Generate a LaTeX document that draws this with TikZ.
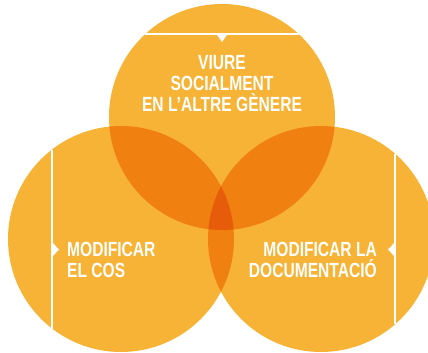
\documentclass[tikz,border=0pt]{standalone}
\usepackage{fontspec}
\setmainfont[FakeStretch=0.76]{Liberation Sans}
\definecolor{base}{RGB}{247,179,53}
\definecolor{two}{RGB}{240,128,15}
\definecolor{three}{RGB}{230,92,10}
\begin{document}
\begin{tikzpicture}[x=1pt,y=-1pt,
  lbl/.style={text=white,font=\bfseries\fontsize{20.5}{21}\selectfont,inner sep=0pt},
  wline/.style={draw=white,line width=1.3pt},
  wtri/.style={fill=white}]
\useasboundingbox (0,0) rectangle (428,353);
\coordinate (T) at (222,117);
\coordinate (L) at (121,239);
\coordinate (R) at (321,239);
\fill[base] (T) circle (113pt);
\fill[base] (L) circle (113pt);
\fill[base] (R) circle (113pt);
\begin{scope}
  \clip (T) circle (113pt);
  \fill[two] (L) circle (113pt);
  \fill[two] (R) circle (113pt);
\end{scope}
\begin{scope}
  \clip (L) circle (113pt);
  \fill[two] (R) circle (113pt);
\end{scope}
\begin{scope}
  \clip (T) circle (113pt);
  \clip (L) circle (113pt);
  \fill[three] (R) circle (113pt);
\end{scope}
% white chords and markers
\draw[wline] (145,34) -- (299,34);
\fill[wtri] (216.5,34) -- (227.5,34) -- (222,42) -- cycle;
\draw[wline] (52,149.5) -- (52,328.5);
\fill[wtri] (52,242) -- (52,257) -- (59,249.5) -- cycle;
\draw[wline] (395,153.6) -- (395,324.4);
\fill[wtri] (395,242) -- (395,257) -- (388,249.5) -- cycle;
% labels
\node[lbl,anchor=north,align=center] (top) at (222,55) {VIURE\\SOCIALMENT\\EN L’ALTRE GÈNERE};
\node[lbl,anchor=north west,align=left] (left) at (67,242) {MODIFICAR\\EL COS};
\node[lbl,anchor=north east,align=right] (right) at (377,242) {MODIFICAR LA\\DOCUMENTACIÓ};
\end{tikzpicture}
\end{document}
